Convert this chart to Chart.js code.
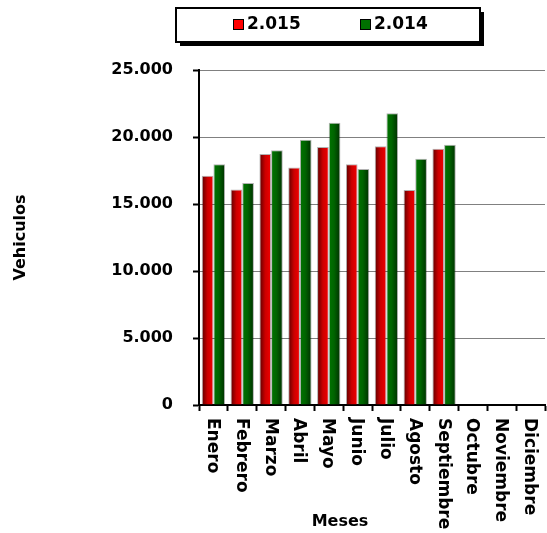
<!DOCTYPE html>
<html><head><meta charset="utf-8">
<script src="https://cdn.jsdelivr.net/npm/chart.js@4/dist/chart.umd.min.js"></script>
<style>html,body{margin:0;padding:0;background:#fff}#wrap{width:547px;height:533px;position:relative}</style>
</head><body><div id="wrap"><canvas id="c"></canvas></div>
<script>
const months = ['Enero','Febrero','Marzo','Abril','Mayo','Junio','Julio','Agosto','Septiembre','Octubre','Noviembre','Diciembre'];
const series2015 = [17100,16080,18740,17720,19260,17970,19310,16040,19130,null,null,null];
const series2014 = [17970,16560,19010,19800,21060,17620,21780,18370,19430,null,null,null];
const seriesLabels = ['2.015','2.014'];
const yTickValues = [0,5000,10000,15000,20000,25000];
const yTickLabels = ['0','5.000','10.000','15.000','20.000','25.000'];
const xTitle = 'Meses';
const yTitle = 'Vehiculos';

const FONT = "'DejaVu Sans', sans-serif";
const CAT_PCT = 0.81;
const gradStops = [
  [[0,'#5a0000'],[0.5,'#cc0000'],[1,'#f20000']],
  [[0,'#007400'],[0.45,'#006400'],[1,'#002e00']]
];

function barFill(di){
  return function(c){
    const chart = c.chart;
    const xs = chart.scales && chart.scales.x;
    if (!xs || c.dataIndex === undefined || !chart.chartArea) return gradStops[di][1][1];
    const n = chart.data.labels.length;
    const cat = (xs.right - xs.left) / n;
    const pair = cat * CAT_PCT;
    const w = pair / 2;
    const left = xs.getPixelForValue(c.dataIndex) - pair/2 + di*w;
    if (!isFinite(left)) return gradStops[di][1][1];
    const g = chart.ctx.createLinearGradient(left,0,left+w,0);
    gradStops[di].forEach(s=>g.addColorStop(s[0],s[1]));
    return g;
  };
}

const decor = {
  id:'decor',
  afterDraw(chart){
    const ctx = chart.ctx;
    const xs = chart.scales.x;
    const area = chart.chartArea;
    ctx.save();
    ctx.fillStyle = '#000';
    ctx.font = "bold 17px " + FONT;
    ctx.textAlign = 'left';
    ctx.textBaseline = 'middle';
    months.forEach((m,i)=>{
      const x = xs.getPixelForValue(i);
      ctx.save();
      ctx.translate(x-1, area.bottom + 13);
      ctx.rotate(Math.PI/2);
      ctx.fillText(m,0,0);
      ctx.restore();
    });
    ctx.font = "bold 16px " + FONT;
    ctx.textAlign = 'center';
    ctx.fillText(xTitle, (area.left+area.right)/2 - 32, 522);
    // legend box
    const bx=176, by=8, bw=304, bh=34;
    ctx.fillStyle='#000';
    ctx.fillRect(bx+4,by+4,bw,bh);
    ctx.fillStyle='#fff';
    ctx.fillRect(bx,by,bw,bh);
    ctx.lineWidth=2;
    ctx.strokeStyle='#000';
    ctx.strokeRect(bx,by,bw,bh);
    const items=[[233,247],[360,374]];
    ctx.font = "bold 17px " + FONT;
    ctx.textAlign='left';
    ctx.textBaseline='middle';
    items.forEach((it,i)=>{
      ctx.fillStyle = i===0 ? '#ff0000' : '#007000';
      ctx.fillRect(it[0],19,10,10);
      ctx.lineWidth=1;
      ctx.strokeStyle='#000';
      ctx.strokeRect(it[0]+0.5,19.5,10,10);
      ctx.fillStyle='#000';
      ctx.fillText(chart.data.datasets[i].label, it[1], 25);
    });
    ctx.restore();
  }
};

new Chart(document.getElementById('c'), {
  type:'bar',
  data:{
    labels: months,
    datasets:[
      {label:seriesLabels[0], data:series2015, backgroundColor:barFill(0), borderColor:'rgba(0,0,0,0.3)', borderWidth:1, categoryPercentage:CAT_PCT, barPercentage:1},
      {label:seriesLabels[1], data:series2014, backgroundColor:barFill(1), borderColor:'rgba(0,0,0,0.3)', borderWidth:1, categoryPercentage:CAT_PCT, barPercentage:1}
    ]
  },
  options:{
    responsive:true,
    maintainAspectRatio:false,
    animation:false,
    events:[],
    layout:{padding:{top:70,right:2,left:0,bottom:0}},
    plugins:{legend:{display:false}, tooltip:{enabled:false}},
    scales:{
      x:{
        grid:{drawOnChartArea:false, tickLength:6, tickColor:'#000', tickWidth:2, offset:true},
        border:{color:'#000', width:2},
        ticks:{display:false},
        afterFit(s){ s.height = 128; }
      },
      y:{
        min:0, max:25000,
        afterBuildTicks(s){ s.ticks = yTickValues.map(v=>({value:v})); },
        ticks:{
          font:{family:FONT, size:16, weight:'bold'}, color:'#000', padding:20,
          callback:(v)=>yTickLabels[yTickValues.indexOf(v)]
        },
        grid:{color:'#808080', lineWidth:1, tickLength:6, tickColor:'#000', tickWidth:2},
        border:{color:'#000', width:2},
        title:{display:true, text:yTitle, color:'#000', font:{family:FONT, size:16, weight:'bold'}, padding:{top:11,bottom:0}},
        afterFit(s){ s.width = 199; }
      }
    }
  },
  plugins:[decor]
});
</script>
</body></html>
